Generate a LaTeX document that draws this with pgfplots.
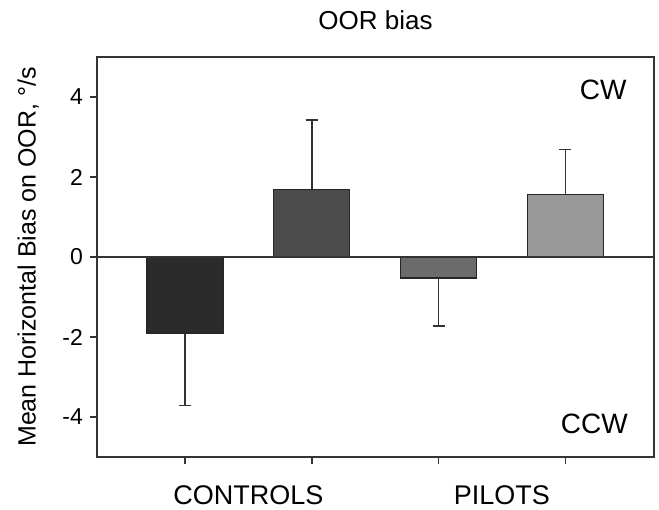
\documentclass[border=0pt]{standalone}
\usepackage{fontspec}
\setmainfont{Liberation Sans}
\usepackage{pgfplots}
\pgfplotsset{compat=1.18}

\definecolor{barA}{HTML}{2B2B2B}
\definecolor{barB}{HTML}{4B4B4B}
\definecolor{barC}{HTML}{6B6B6B}
\definecolor{barD}{HTML}{989898}
\definecolor{axisgray}{HTML}{333333}

\begin{document}
\begin{tikzpicture}
\begin{axis}[
  scale only axis,
  width=278.5pt, height=200pt,
  xmin=0.305, xmax=4.70,
  ymin=-5, ymax=5,
  ybar, bar width=0.6, bar shift=0pt,
  axis line style={axisgray, line width=0.7pt},
  tick align=outside,
  major tick length=3.5pt,
  tick style={axisgray, line width=0.7pt},
  xtick={1,2,3,4}, xticklabels={},
  xtick pos=bottom, ytick pos=left,
  extra x ticks={1.5,3.5},
  extra x tick labels={CONTROLS,PILOTS},
  extra x tick style={major tick length=0pt,
    ticklabel style={font=\fontsize{13.5}{15}\selectfont, yshift=-11pt}},
  ytick={-4,-2,0,2,4},
  yticklabels={-4,-2,0,2,4},
  yticklabel style={font=\fontsize{11.5}{13}\selectfont},
  ylabel={Mean Horizontal Bias on OOR, °/s},
  ylabel style={font=\fontsize{12.5}{14}\selectfont, yshift=5pt},
  title={OOR bias},
  title style={font=\fontsize{13}{15}\selectfont, yshift=4pt},
  error bars/error bar style={axisgray, line width=0.7pt},
  error bars/error mark options={rotate=90, mark size=3pt, line width=0.7pt, axisgray},
  clip=false,
]
\addplot[fill=barA, draw=black!85, line width=0.6pt,
  error bars/.cd, y dir=minus, y explicit]
  coordinates {(1,-1.9) -= (0,1.82)};
\addplot[fill=barB, draw=black!85, line width=0.6pt,
  error bars/.cd, y dir=plus, y explicit]
  coordinates {(2,1.69) += (0,1.73)};
\addplot[fill=barC, draw=black!85, line width=0.6pt,
  error bars/.cd, y dir=minus, y explicit]
  coordinates {(3,-0.525) -= (0,1.2)};
\addplot[fill=barD, draw=black!85, line width=0.6pt,
  error bars/.cd, y dir=plus, y explicit]
  coordinates {(4,1.57) += (0,1.12)};
\draw[axisgray, line width=0.7pt] (rel axis cs:0,0.5) -- (rel axis cs:1,0.5);
\node[font=\fontsize{14}{16}\selectfont] at (axis cs:4.30,4.18) {CW};
\node[font=\fontsize{14}{16}\selectfont] at (axis cs:4.23,-4.17) {CCW};
\end{axis}
\pgfresetboundingbox
\path[use as bounding box] (current axis.south west) ++(-48.5pt,-26.5pt)
  rectangle ([xshift=2.5pt,yshift=28.5pt]current axis.north east);
\end{tikzpicture}
\end{document}
